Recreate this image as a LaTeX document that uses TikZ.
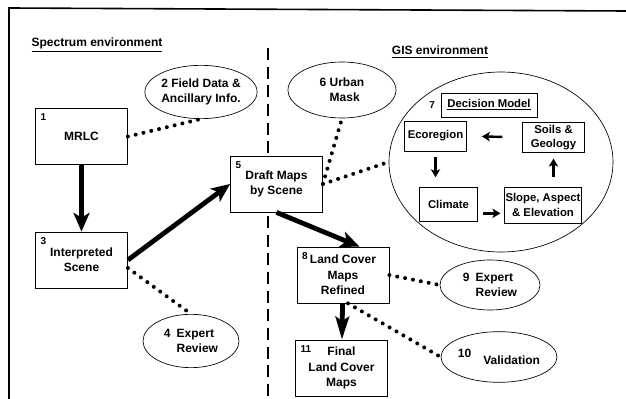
\documentclass[tikz,border=0pt]{standalone}
\usepackage{fontspec}
\setmainfont{Liberation Sans}
\usepackage{tikz}
\usetikzlibrary{shapes,arrows,positioning,calc,arrows.meta}

\begin{document}
\begin{tikzpicture}[x=0.75pt, y=-0.75pt,
    every node/.style={font=\bfseries\fontsize{9}{11.5}\selectfont, align=center},
    stepbox/.style={draw, line width=0.6pt, fill=white, minimum width=69pt, minimum height=42pt, inner sep=1pt},
    bubble/.style={draw, ellipse, line width=0.5pt, minimum width=75pt, minimum height=40pt, inner sep=0pt},
    inbox/.style={draw, line width=0.6pt, inner sep=1pt, font=\bfseries\fontsize{8.5}{11}\selectfont},
    num/.style={font=\bfseries\fontsize{7.5}{8}\selectfont, inner sep=4pt},
    bigarrow/.style={line width=3.6pt, -{Stealth[length=14pt,width=12pt,inset=3.5pt]}},
    smallarrow/.style={line width=1.8pt, -{Stealth[length=6pt,width=7pt,inset=1.5pt]}},
    dots/.style={line width=3pt, line cap=round, dash pattern=on 0pt off 6pt}]
    \useasboundingbox (0,0) rectangle (626,399);

    % Frame and divider
    \draw[line width=1.2pt] (9,399) -- (9,8) -- (626,11);
    \draw[line width=1.8pt, dash pattern=on 9pt off 5pt] (268,48) -- (268,399);
    \node (spectrum) at (97,45) {\underline{Spectrum environment}};
    \node (gis) at (440,52) {\underline{GIS environment}};

    % Spectrum environment
    \node[stepbox, label={[num, anchor=north west]north west:1}] (mrlc) at (81.5,136.5) {MRLC};
    \node[bubble, align=right] (field) at (201,92) {2 Field Data \&\\Ancillary Info.};
    \node[stepbox, label={[num, anchor=north west]north west:3}] (interp) at (81.5,260) {Interpreted\\Scene};
    \node[bubble, minimum width=72pt, align=left] (review1) at (191,341) {4\enspace Expert\\\phantom{4\enspace }Review};
    \node[stepbox, label={[num, anchor=north west]north west:5}] (draft) at (276.5,184) {Draft Maps\\by Scene};

    % GIS environment
    \node[bubble, minimum width=81pt, minimum height=42pt, align=left] (urban) at (342,90) {6 Urban\\\phantom{6 }Mask};
    \node[draw, ellipse, line width=0.5pt, minimum width=168pt, minimum height=135pt] (decision) at (501,162) {};
    \node[inbox, minimum width=72pt, minimum height=18pt, label={[num]left:7}] (model) at (489,105) {\underline{Decision Model}};
    \node[inbox, minimum width=47pt, minimum height=22.5pt] (eco) at (435.5,136) {Ecoregion};
    \node[inbox, minimum width=46pt, minimum height=23pt] (soils) at (553.5,137.5) {Soils \&\\Geology};
    \node[inbox, minimum width=43pt, minimum height=25.5pt] (climate) at (448.5,204) {Climate};
    \node[inbox, minimum width=54pt, minimum height=27pt, inner sep=0.5pt] (slope) at (543,205) {Slope, Aspect\\\& Elevation};
    \node[stepbox, label={[num, anchor=north west]north west:8}] (refined) at (343,275) {Land Cover\\Maps\\Refined};
    \node[bubble, minimum height=37.5pt, align=left] (review2) at (490,285) {9\enspace Expert\\\phantom{9\enspace }Review};
    \node[stepbox, label={[num, anchor=north west]north west:11}] (final) at (341.5,368) {Final\\Land Cover\\Maps};
    \node[bubble, minimum width=73.5pt, minimum height=38pt] (valid) at (499,357) {10\quad\raisebox{-5pt}{Validation}};

    % Main flow
    \draw[bigarrow] (mrlc) -- (interp);
    \draw[bigarrow] (interp.east) -- (draft.west);
    \draw[bigarrow] (draft.south) -- (refined.60);
    \draw[line width=3.6pt, -{Stealth[length=17pt,width=10pt,inset=3pt]}] (refined) -- (final);

    % Inputs and reviews
    \draw[dots] (mrlc.east) -- (field.south);
    \draw[dots] ([yshift=-6pt]interp.east) -- (review1.north);
    \draw[dots] (draft.east) -- (urban.south);
    \draw[dots] (draft.east) -- (decision.west);
    \draw[dots] (refined.east) -- (review2.west);
    \draw[dots] (refined.-80) -- (valid.west);

    % Decision model loop
    \draw[smallarrow, shorten <=15pt, shorten >=11pt] (soils.west) -- (eco.east);
    \draw[smallarrow, shorten <=4pt, shorten >=7pt] (eco.south) -- (eco.south |- climate.north);
    \draw[smallarrow, shorten <=7pt, shorten >=4pt] (soils.south |- slope.north) -- (soils.south);
    \draw[smallarrow, shorten <=4pt, shorten >=3pt] ([yshift=-7pt]climate.east) -- ([yshift=-7pt]climate.east -| slope.west);
\end{tikzpicture}
\end{document}
